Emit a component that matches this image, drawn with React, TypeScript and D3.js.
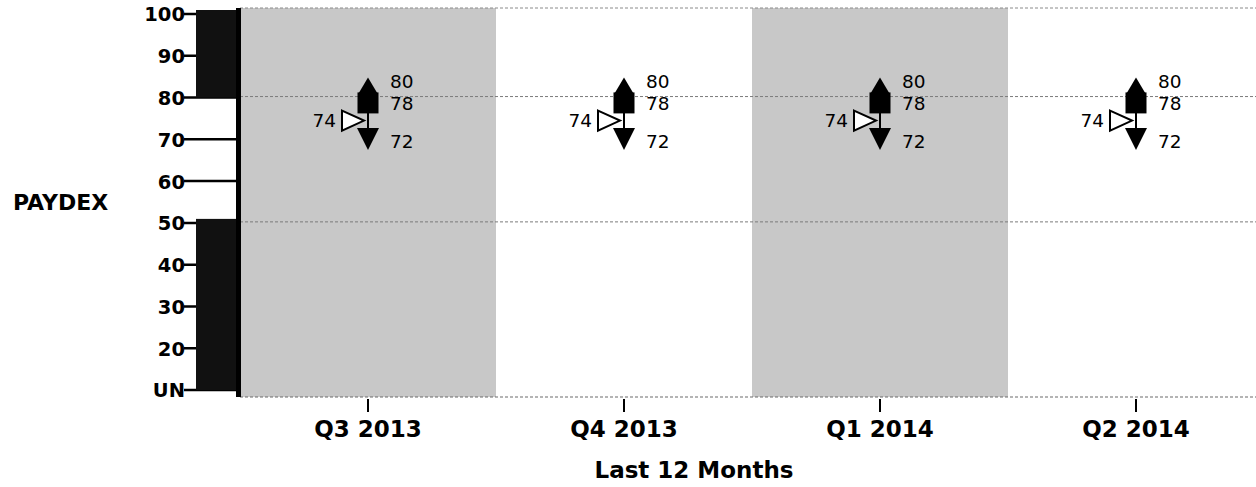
import * as d3 from 'd3';

const quarters = ['Q3 2013', 'Q4 2013', 'Q1 2014', 'Q2 2014'];
const shadedQuarters = ['Q3 2013', 'Q1 2014'];
const highValues = [80, 80, 80, 80];
const currentValues = [78, 78, 78, 78];
const industryValues = [74, 74, 74, 74];
const lowValues = [72, 72, 72, 72];

const yTicks = [100, 90, 80, 70, 60, 50, 40, 30, 20, 10];
const yTickLabels = ['100', '90', '80', '70', '60', '50', '40', '30', '20', 'UN'];
const riskBands = [
  { from: 80, to: 100 },
  { from: 10, to: 50 },
];
const gridValues = [80, 50];

const WIDTH = 1256;
const HEIGHT = 487;
const FONT = '"DejaVu Sans", Verdana, sans-serif';

// closed polygon path from a list of points
const poly = (pts: [number, number][]) => (d3.line()(pts) ?? '') + 'Z';

const App = (): JSX.Element => {
  const plotTop = 8;
  const plotBottom = 397;

  const x = d3.scaleBand<string>().domain(quarters).range([240, 1264]).padding(0);
  const y = d3.scaleLinear().domain([10, 100]).range([390, 14]);

  const sq = 21;
  const tri = 22;

  return (
    <div style={{ position: 'fixed', left: 0, top: 0 }}>
      <svg width={WIDTH} height={HEIGHT} style={{ display: 'block', background: '#fff' }}>
        {/* shaded quarters */}
        {shadedQuarters.map((q) => (
          <rect
            key={q}
            x={x(q)}
            y={plotTop}
            width={x.bandwidth()}
            height={plotBottom - plotTop}
            fill="#c8c8c8"
          />
        ))}

        {/* plot border lines */}
        <line x1={240} x2={WIDTH} y1={plotTop} y2={plotTop} stroke="#8a8a8a" strokeWidth={1} strokeDasharray="3 2" />
        <line x1={240} x2={WIDTH} y1={plotBottom} y2={plotBottom} stroke="#6a6a6a" strokeWidth={1.2} strokeDasharray="3 2" />

        {/* grid lines */}
        {gridValues.map((v) => (
          <line
            key={v}
            x1={240}
            x2={WIDTH}
            y1={y(v) - 1}
            y2={y(v) - 1}
            stroke="#7a7a7a"
            strokeWidth={1}
            strokeDasharray="3 2"
          />
        ))}

        {/* y ticks and labels */}
        {yTicks.map((t, i) => (
          <g key={t}>
            <line x1={184} x2={236} y1={y(t)} y2={y(t)} stroke="#000" strokeWidth={2.5} />
            <text
              x={185}
              y={y(t)}
              dy="0.38em"
              textAnchor="end"
              fontFamily={FONT}
              fontWeight="bold"
              fontSize={19.5}
              fill="#000"
            >
              {yTickLabels[i]}
            </text>
          </g>
        ))}

        {/* risk bands on the axis */}
        {riskBands.map((b) => (
          <rect
            key={b.from}
            x={196}
            y={y(b.to) - 4}
            width={41}
            height={y(b.from) - y(b.to) + 4}
            fill="#111"
          />
        ))}
        <rect x={236} y={plotTop} width={5} height={plotBottom - plotTop} fill="#000" />

        <text x={13} y={210} fontFamily={FONT} fontWeight="bold" fontSize={22} fill="#000">
          PAYDEX
        </text>

        {/* x axis */}
        {quarters.map((q) => {
          const cx = (x(q) ?? 0) + x.bandwidth() / 2;
          return (
            <g key={q}>
              <line x1={cx} x2={cx} y1={plotBottom + 2} y2={plotBottom + 15} stroke="#000" strokeWidth={2} />
              <text
                x={cx}
                y={437}
                textAnchor="middle"
                fontFamily={FONT}
                fontWeight="bold"
                fontSize={23}
                fill="#000"
              >
                {q}
              </text>
            </g>
          );
        })}
        <text x={694} y={478} textAnchor="middle" fontFamily={FONT} fontWeight="bold" fontSize={23} fill="#000">
          Last 12 Months
        </text>

        {/* markers */}
        {quarters.map((q, i) => {
          const cx = (x(q) ?? 0) + x.bandwidth() / 2;
          const yCur = y(currentValues[i]) - 3;
          const yLow = y(lowValues[i]) + 8;
          const yInd = y(industryValues[i]) - 2;
          const sqTop = yCur - sq / 2;
          const upPath = poly([
            [cx, sqTop - 15],
            [cx + sq / 2 - 1, sqTop + 1],
            [cx - sq / 2 + 1, sqTop + 1],
          ]);
          const downPath = poly([
            [cx - tri / 2, yLow - tri / 2],
            [cx + tri / 2, yLow - tri / 2],
            [cx, yLow + tri / 2],
          ]);
          const indPath = poly([
            [cx - 26, yInd - tri / 2 + 1],
            [cx - 4, yInd],
            [cx - 26, yInd + tri / 2 - 1],
          ]);
          return (
            <g key={q}>
              <line x1={cx} x2={cx} y1={yCur} y2={yLow} stroke="#000" strokeWidth={2} />
              <path d={upPath} fill="#000" />
              <rect x={cx - sq / 2} y={sqTop} width={sq} height={sq} fill="#000" />
              <path d={downPath} fill="#000" />
              <path d={indPath} fill="#fff" stroke="#000" strokeWidth={2} strokeLinejoin="miter" />
              <text x={cx + 22} y={sqTop - 11} dy="0.36em" fontFamily={FONT} fontSize={18.5} fill="#000">
                {highValues[i]}
              </text>
              <text x={cx + 22} y={yCur} dy="0.36em" fontFamily={FONT} fontSize={18.5} fill="#000">
                {currentValues[i]}
              </text>
              <text x={cx + 22} y={yLow + 2} dy="0.36em" fontFamily={FONT} fontSize={18.5} fill="#000">
                {lowValues[i]}
              </text>
              <text x={cx - 32} y={yInd} dy="0.36em" textAnchor="end" fontFamily={FONT} fontSize={18.5} fill="#000">
                {industryValues[i]}
              </text>
            </g>
          );
        })}
      </svg>
    </div>
  );
};

export default App;
